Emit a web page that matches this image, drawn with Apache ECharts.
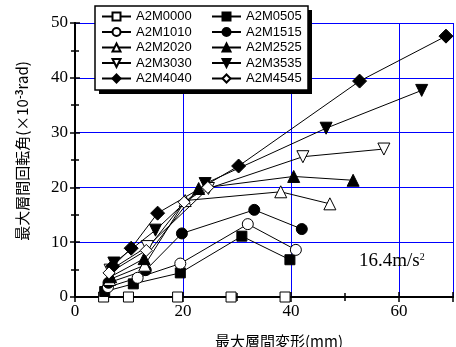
<!DOCTYPE html>
<html><head><meta charset="utf-8">
<script src="https://cdn.jsdelivr.net/npm/echarts@6/dist/echarts.min.js"></script>
<style>html,body{margin:0;padding:0;background:#fff}#c{width:456px;height:347px}</style>
</head><body><div id="c"></div>
<script>
const names = ['A2M0000','A2M0505','A2M1010','A2M1515','A2M2020','A2M2525','A2M3030','A2M3535','A2M4040','A2M4545'];
const x0000 = [5.3, 9.9, 19.0, 28.9, 38.9];
const y0000 = [0, 0, 0, 0, 0];
const x0505 = [5.5, 10.8, 19.5, 30.9, 39.8];
const y0505 = [1.0, 2.4, 4.4, 11.1, 6.8];
const x1010 = [6.1, 11.6, 19.5, 32.0, 40.9];
const y1010 = [1.8, 3.5, 6.1, 13.3, 8.6];
const x1515 = [6.2, 13.1, 19.8, 33.2, 42.0];
const y1515 = [2.6, 4.9, 11.6, 15.9, 12.4];
const x2020 = [6.4, 12.9, 20.4, 38.1, 47.2];
const y2020 = [3.2, 5.8, 17.6, 19.2, 17.0];
const x2525 = [6.6, 12.8, 22.9, 40.5, 51.5];
const y2525 = [3.7, 7.0, 19.8, 22.0, 21.3];
const x3030 = [6.5, 13.4, 24.7, 42.2, 57.2];
const y3030 = [4.9, 9.2, 19.8, 25.6, 27.0];
const x3535 = [7.2, 14.9, 24.1, 46.5, 64.2];
const y3535 = [6.2, 12.2, 20.7, 30.8, 37.7];
const x4040 = [7.0, 10.4, 15.3, 30.3, 52.7, 68.7];
const y4040 = [5.6, 8.9, 15.3, 23.9, 39.4, 47.6];
const x4545 = [6.3, 13.2, 20.2, 24.6];
const y4545 = [4.4, 8.5, 17.3, 20.0];
const xTicks = [0, 20, 40, 60];
const yTicks = [0, 10, 20, 30, 40, 50];
const annotation = '16.4m/s';
const annotationSup = '2';

const xs = [x0000,x0505,x1010,x1515,x2020,x2525,x3030,x3535,x4040,x4545];
const ys = [y0000,y0505,y1010,y1515,y2020,y2525,y3030,y3535,y4040,y4545];
const sym = [
  ['rect',10,false,0],['rect',10,true,0],['circle',11,false,0],['circle',11,true,0],
  ['triangle',12,false,0],['triangle',12,true,0],['triangle',12,false,180],['triangle',12,true,180],
  ['diamond',14,true,0],['diamond',12,false,0]
];
const series = names.map((n,i)=>({
  name:n, type:'line', data: xs[i].map((x,j)=>[x, ys[i][j]]),
  symbol: sym[i][0], symbolSize: sym[i][1], symbolRotate: sym[i][3],
  showAllSymbol:true,
  lineStyle:{color:'#000', width:1},
  itemStyle:{color: sym[i][2] ? '#000' : '#fff', borderColor:'#000', borderWidth:1},
  emphasis:{disabled:true}, animation:false, z: 3
}));
const serif = '"Liberation Serif","Times New Roman",serif';
const chart = echarts.init(document.getElementById('c'));
const legendBase = {
  orient:'vertical', itemWidth:29, itemHeight:10, itemGap:2.5, padding:0, selectedMode:false, z:6,
  textStyle:{fontFamily:'"Liberation Sans",Arial,sans-serif', fontSize:13, color:'#000', padding:[0,0,0,0]}
};
chart.setOption({
  animation:false,
  grid:{left:75, top:23, width:382, height:274},
  legend:[
    Object.assign({}, legendBase, {left:101, top:10, data:names.filter((n,i)=>i%2===0)}),
    Object.assign({}, legendBase, {left:211, top:10, data:names.filter((n,i)=>i%2===1)})
  ],
  xAxis:[{
    type:'value', min:0, max:70, interval:20, position:'bottom',
    axisLine:{lineStyle:{color:'#000', width:2}},
    axisTick:{inside:true, length:5, lineStyle:{color:'#000', width:1.5}},
    minorTick:{show:true, splitNumber:2, length:4, lineStyle:{color:'#000', width:1.5}},
    axisLabel:{fontFamily:serif, fontSize:17, color:'#000', margin:6, formatter:v=>xTicks.includes(v)?String(v):''},
    splitLine:{show:true, lineStyle:{color:'#0000ff', width:1}}
  },{
    type:'value', min:0, max:70, interval:20, position:'top',
    axisLine:{lineStyle:{color:'#000', width:2}},
    axisTick:{inside:true, length:5, lineStyle:{color:'#000', width:1.5}},
    minorTick:{show:true, splitNumber:2, length:4, lineStyle:{color:'#000', width:1.5}},
    axisLabel:{show:false}, splitLine:{show:false}
  }],
  yAxis:[{
    type:'value', min:0, max:50, interval:10, position:'left',
    axisLine:{lineStyle:{color:'#000', width:2}},
    axisTick:{inside:true, length:5, lineStyle:{color:'#000', width:1.5}},
    minorTick:{show:true, splitNumber:2, length:4, lineStyle:{color:'#000', width:1.5}},
    axisLabel:{fontFamily:serif, fontSize:17, color:'#000', margin:7, formatter:v=>yTicks.includes(v)?String(v):''},
    splitLine:{show:true, lineStyle:{color:'#0000ff', width:1}}
  },{
    type:'value', min:0, max:50, interval:10, position:'right',
    axisLine:{lineStyle:{color:'#000', width:2}},
    axisTick:{inside:true, length:5, lineStyle:{color:'#000', width:1.5}},
    minorTick:{show:true, splitNumber:2, length:4, lineStyle:{color:'#000', width:1.5}},
    axisLabel:{show:false}, splitLine:{show:false}
  }],
  graphic:[
    {type:'rect', z:4, shape:{x:99, y:10, width:213, height:84}, style:{fill:'#000'}},
    {type:'rect', z:5, shape:{x:95, y:6, width:213, height:84}, style:{fill:'#fff', stroke:'#000', lineWidth:1.5}},
    {type:'text', z:5, x:359, y:271, style:{
      text:'{a|'+annotation+'}{b|'+annotationSup+'}', textVerticalAlign:'bottom',
      rich:{a:{fontFamily:serif, fontSize:19, fill:'#000'}, b:{fontFamily:serif, fontSize:10, fill:'#000', verticalAlign:'top'}}
    }},
    {type:'text', z:5, x:279, y:341, style:{
      text:'最大層間変形(mm)', textAlign:'center', textVerticalAlign:'middle',
      font:'15px "Noto Sans CJK JP", sans-serif', fill:'#000'
    }},
    {type:'text', z:5, x:22, y:151, rotation:Math.PI/2, style:{
      text:'{a|最大層間回転角(×10}{b|-3}{a|rad)}', textAlign:'center', textVerticalAlign:'middle',
      rich:{a:{fontFamily:'"Noto Sans CJK JP", sans-serif', fontSize:15, fill:'#000'},
            b:{fontFamily:'"Noto Sans CJK JP", sans-serif', fontSize:10, fontWeight:'bold', fill:'#000', verticalAlign:'top'}}
    }}
  ],
  series: series
});
</script></body></html>
